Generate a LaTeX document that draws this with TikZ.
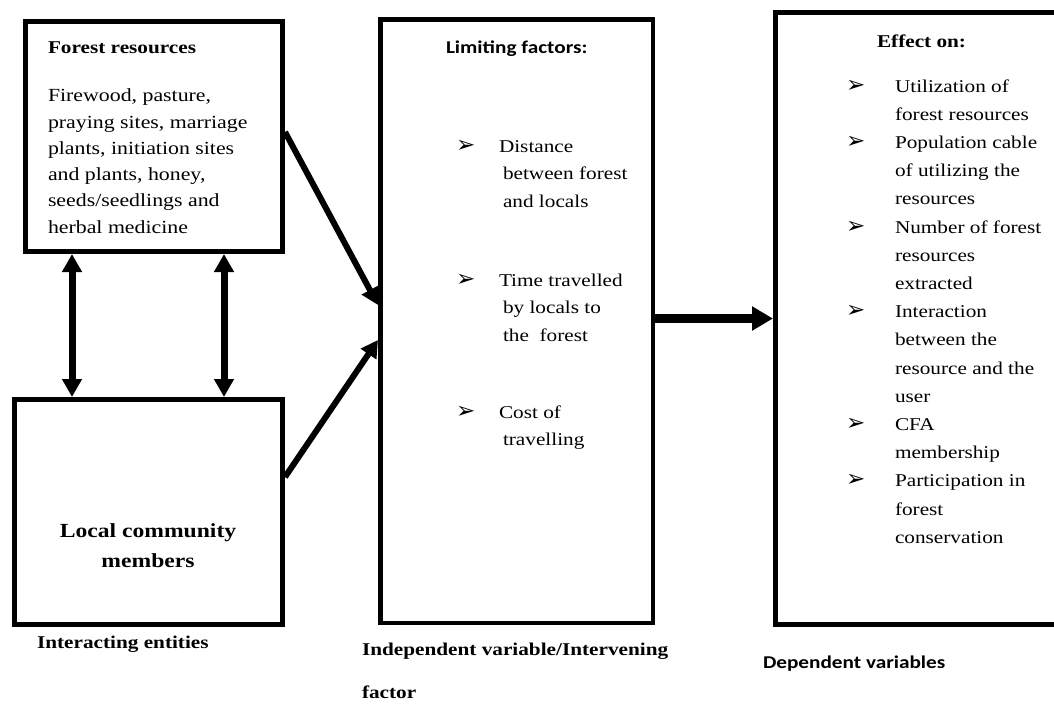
\documentclass[tikz,border=0pt]{standalone}
\usepackage{fontspec}
\setmainfont{Liberation Serif}[FakeStretch=1.18]
\newfontfamily\calfont{Carlito}[FakeStretch=1.18]
\newfontfamily\bulfont{DejaVu Sans}
\usetikzlibrary{arrows.meta}
\newcommand{\mylines}[1]{\begin{tabular}[t]{@{}l@{}}#1\end{tabular}}
\newcommand{\mycenter}[1]{\begin{tabular}[t]{@{}c@{}}#1\end{tabular}}
\tikzset{
  boxthick/.style={draw, rectangle, line width=5pt, inner sep=0pt},
  boxthin/.style={draw, rectangle, line width=4.5pt, inner sep=0pt},
  txt/.style={anchor=base west, inner sep=0pt, outer sep=0pt},
  bodyA/.style={txt, font=\fontsize{18.5}{26.3}\selectfont},
  bodyB/.style={txt, font=\fontsize{18}{27.8}\selectfont},
  bodyC/.style={txt, font=\fontsize{18}{28.2}\selectfont},
  head/.style={txt, font=\fontsize{18}{22}\selectfont\bfseries},
  shead/.style={txt, font=\fontsize{18}{22}\selectfont\calfont\bfseries},
  bul/.style={txt, font=\fontsize{23}{23}\selectfont\bulfont},
  dblarrow/.style={line width=7pt, arrows={Triangle[length=18pt,width=19pt]-Triangle[length=18pt,width=19pt]}},
  diagarrow/.style={line width=6pt, arrows={-Triangle[length=17pt,width=18pt]}},
  harrow/.style={line width=8.5pt, arrows={-Triangle[length=21pt,width=23pt]}},
}
\begin{document}
\begin{tikzpicture}[x=1pt,y=-1pt]
\useasboundingbox (0,0) rectangle (1054,705);
\clip (0,0) rectangle (1054,705);
\fill[white] (0,0) rectangle (1054,705);

% boxes
\node[boxthick, minimum width=257pt, minimum height=230pt] (b1) at (154,136.5) {};
\node[boxthick, minimum width=268pt, minimum height=225pt] (b2) at (148.5,512) {};
\node[boxthin, minimum width=272.5pt, minimum height=603.5pt] (b3) at (516.5,321) {};
\node[boxthick, minimum width=290pt, minimum height=612pt] (b4) at (920.5,318.5) {};

% box 1 text
\node[head] (t1h) at (48,53) {Forest resources};
\node[bodyA] (t1b) at (48,101.7) {\mylines{Firewood, pasture,\\praying sites, marriage\\plants, initiation sites\\and plants, honey,\\seeds/seedlings and\\herbal medicine}};

% box 2 text
\node[anchor=base, inner sep=0pt, font=\fontsize{20}{30}\selectfont\bfseries] (t2) at (148,537) {\mycenter{Local community\\members}};

% box 3 text
\node[shead] (t3h) at (446,53) {Limiting factors:};
\node[bul] (p1) at (456,152) {➢};
\node[bodyB] (q1) at (499,152) {\mylines{Distance\\\hspace{4pt}between forest\\\hspace{4pt}and locals}};
\node[bul] (p2) at (456,286) {➢};
\node[bodyB] (q2) at (499,286) {\mylines{Time travelled\\\hspace{4pt}by locals to\\\hspace{4pt}the\ \ forest}};
\node[bul] (p3) at (456,418) {➢};
\node[bodyB] (q3) at (499,418) {\mylines{Cost of\\\hspace{4pt}travelling}};

% box 4 text
\node[head] (t4h) at (877,47) {Effect on:};
\node[bul] (r1) at (846,92) {➢};
\node[bodyC] (s1) at (895,92) {\mylines{Utilization of\\forest resources}};
\node[bul] (r2) at (846,148.4) {➢};
\node[bodyC] (s2) at (895,148.4) {\mylines{Population cable\\of utilizing the\\resources}};
\node[bul] (r3) at (846,233) {➢};
\node[bodyC] (s3) at (895,233) {\mylines{Number of forest\\resources\\extracted}};
\node[bul] (r4) at (846,317.6) {➢};
\node[bodyC] (s4) at (895,317.6) {\mylines{Interaction\\between the\\resource and the\\user}};
\node[bul] (r5) at (846,430.4) {➢};
\node[bodyC] (s5) at (895,430.4) {\mylines{CFA\\membership}};
\node[bul] (r6) at (846,486.8) {➢};
\node[bodyC] (s6) at (895,486.8) {\mylines{Participation in\\forest\\conservation}};

% captions
\node[head] (c1) at (37,648) {Interacting entities};
\node[txt, font=\fontsize{18}{43}\selectfont\bfseries] (c2) at (362,655) {\mylines{Independent variable/Intervening\\factor}};
\node[shead] (c3) at (763,668) {Dependent variables};

% connectors
\coordinate (xa) at (72,0);
\coordinate (xb) at (224,0);
\coordinate (ya) at (0,132);
\coordinate (yb) at (0,305);
\coordinate (yc) at (0,477);
\coordinate (yd) at (0,340);
\draw[dblarrow] (b1.south -| xa) -- (b2.north -| xa);
\draw[dblarrow] (b1.south -| xb) -- (b2.north -| xb);
\draw[diagarrow] (b1.east |- ya) -- (b3.west |- yb);
\draw[diagarrow] (b2.east |- yc) -- (b3.west |- yd);
\draw[harrow] (b3.east |- b4.west) -- (b4.west);
\end{tikzpicture}
\end{document}
